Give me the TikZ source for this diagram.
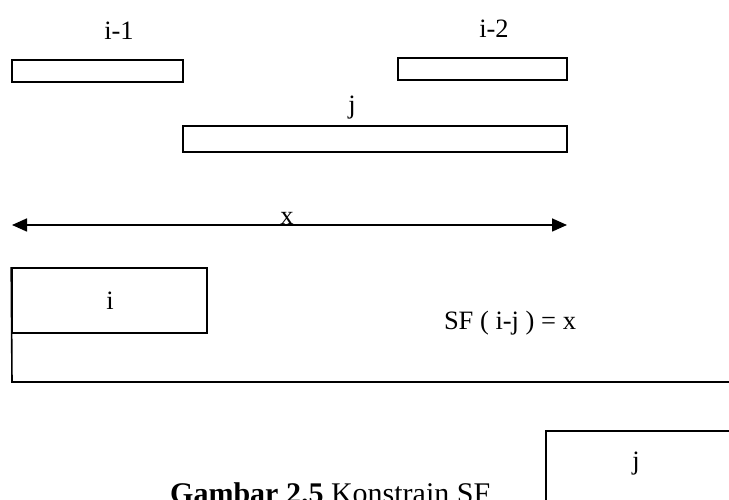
\documentclass[tikz,border=0pt]{standalone}
\usepackage{fontspec}
\setmainfont{Liberation Serif}
\usetikzlibrary{arrows.meta, positioning}

\begin{document}
\begin{tikzpicture}[x=1pt, y=1pt, >={Triangle[length=15pt, width=13pt]},
    bar/.style={rectangle, draw, line width=1.6pt, inner sep=0pt},
    lbl/.style={inner sep=0pt, anchor=base, font=\fontsize{26.5}{30}\selectfont}]

    \useasboundingbox (0,0) rectangle (729,500);
    \clip (0,0) rectangle (729,500);

    % upper bars
    \node[bar, minimum width=171pt, minimum height=22pt] (bi1) at (97.5,429) {};
    \node[bar, minimum width=169pt, minimum height=22pt] (bi2) at (482.5,431) {};
    \node[bar, minimum width=384pt, minimum height=26pt] (bj) at (375,361) {};
    \node[lbl] (li1) at (119,460) {i-1};
    \node[lbl] (li2) at (494,462) {i-2};
    \node[lbl] (lj) at (352,386) {j};

    % span x
    \coordinate (xa) at (12,275);
    \coordinate (xb) at (567,275);
    \draw[<->, line width=1.6pt] (xa) -- (xb);
    \node[lbl] (lx) at (287,275) {x};

    % lower part
    \node[bar, minimum width=195pt, minimum height=65pt] (bi) at (109.5,199.5) {};
    \node[lbl] (li) at (110,190) {i};
    \draw[line width=1.6pt] (bi.north west) -- (12,118) -- (740,118);
    \node[lbl] (sf) at (510,170) {SF ( i-j ) = x};

    \node[bar, anchor=north west, minimum width=220pt, minimum height=140pt] (bj2) at (545,70) {};
    \node[lbl] (lj2) at (636,30) {j};

    \node[lbl, anchor=base west, font=\fontsize{30}{34}\selectfont] (cap) at (170,-4)
        {\textbf{Gambar 2.5} Konstrain SF};
\end{tikzpicture}
\end{document}
